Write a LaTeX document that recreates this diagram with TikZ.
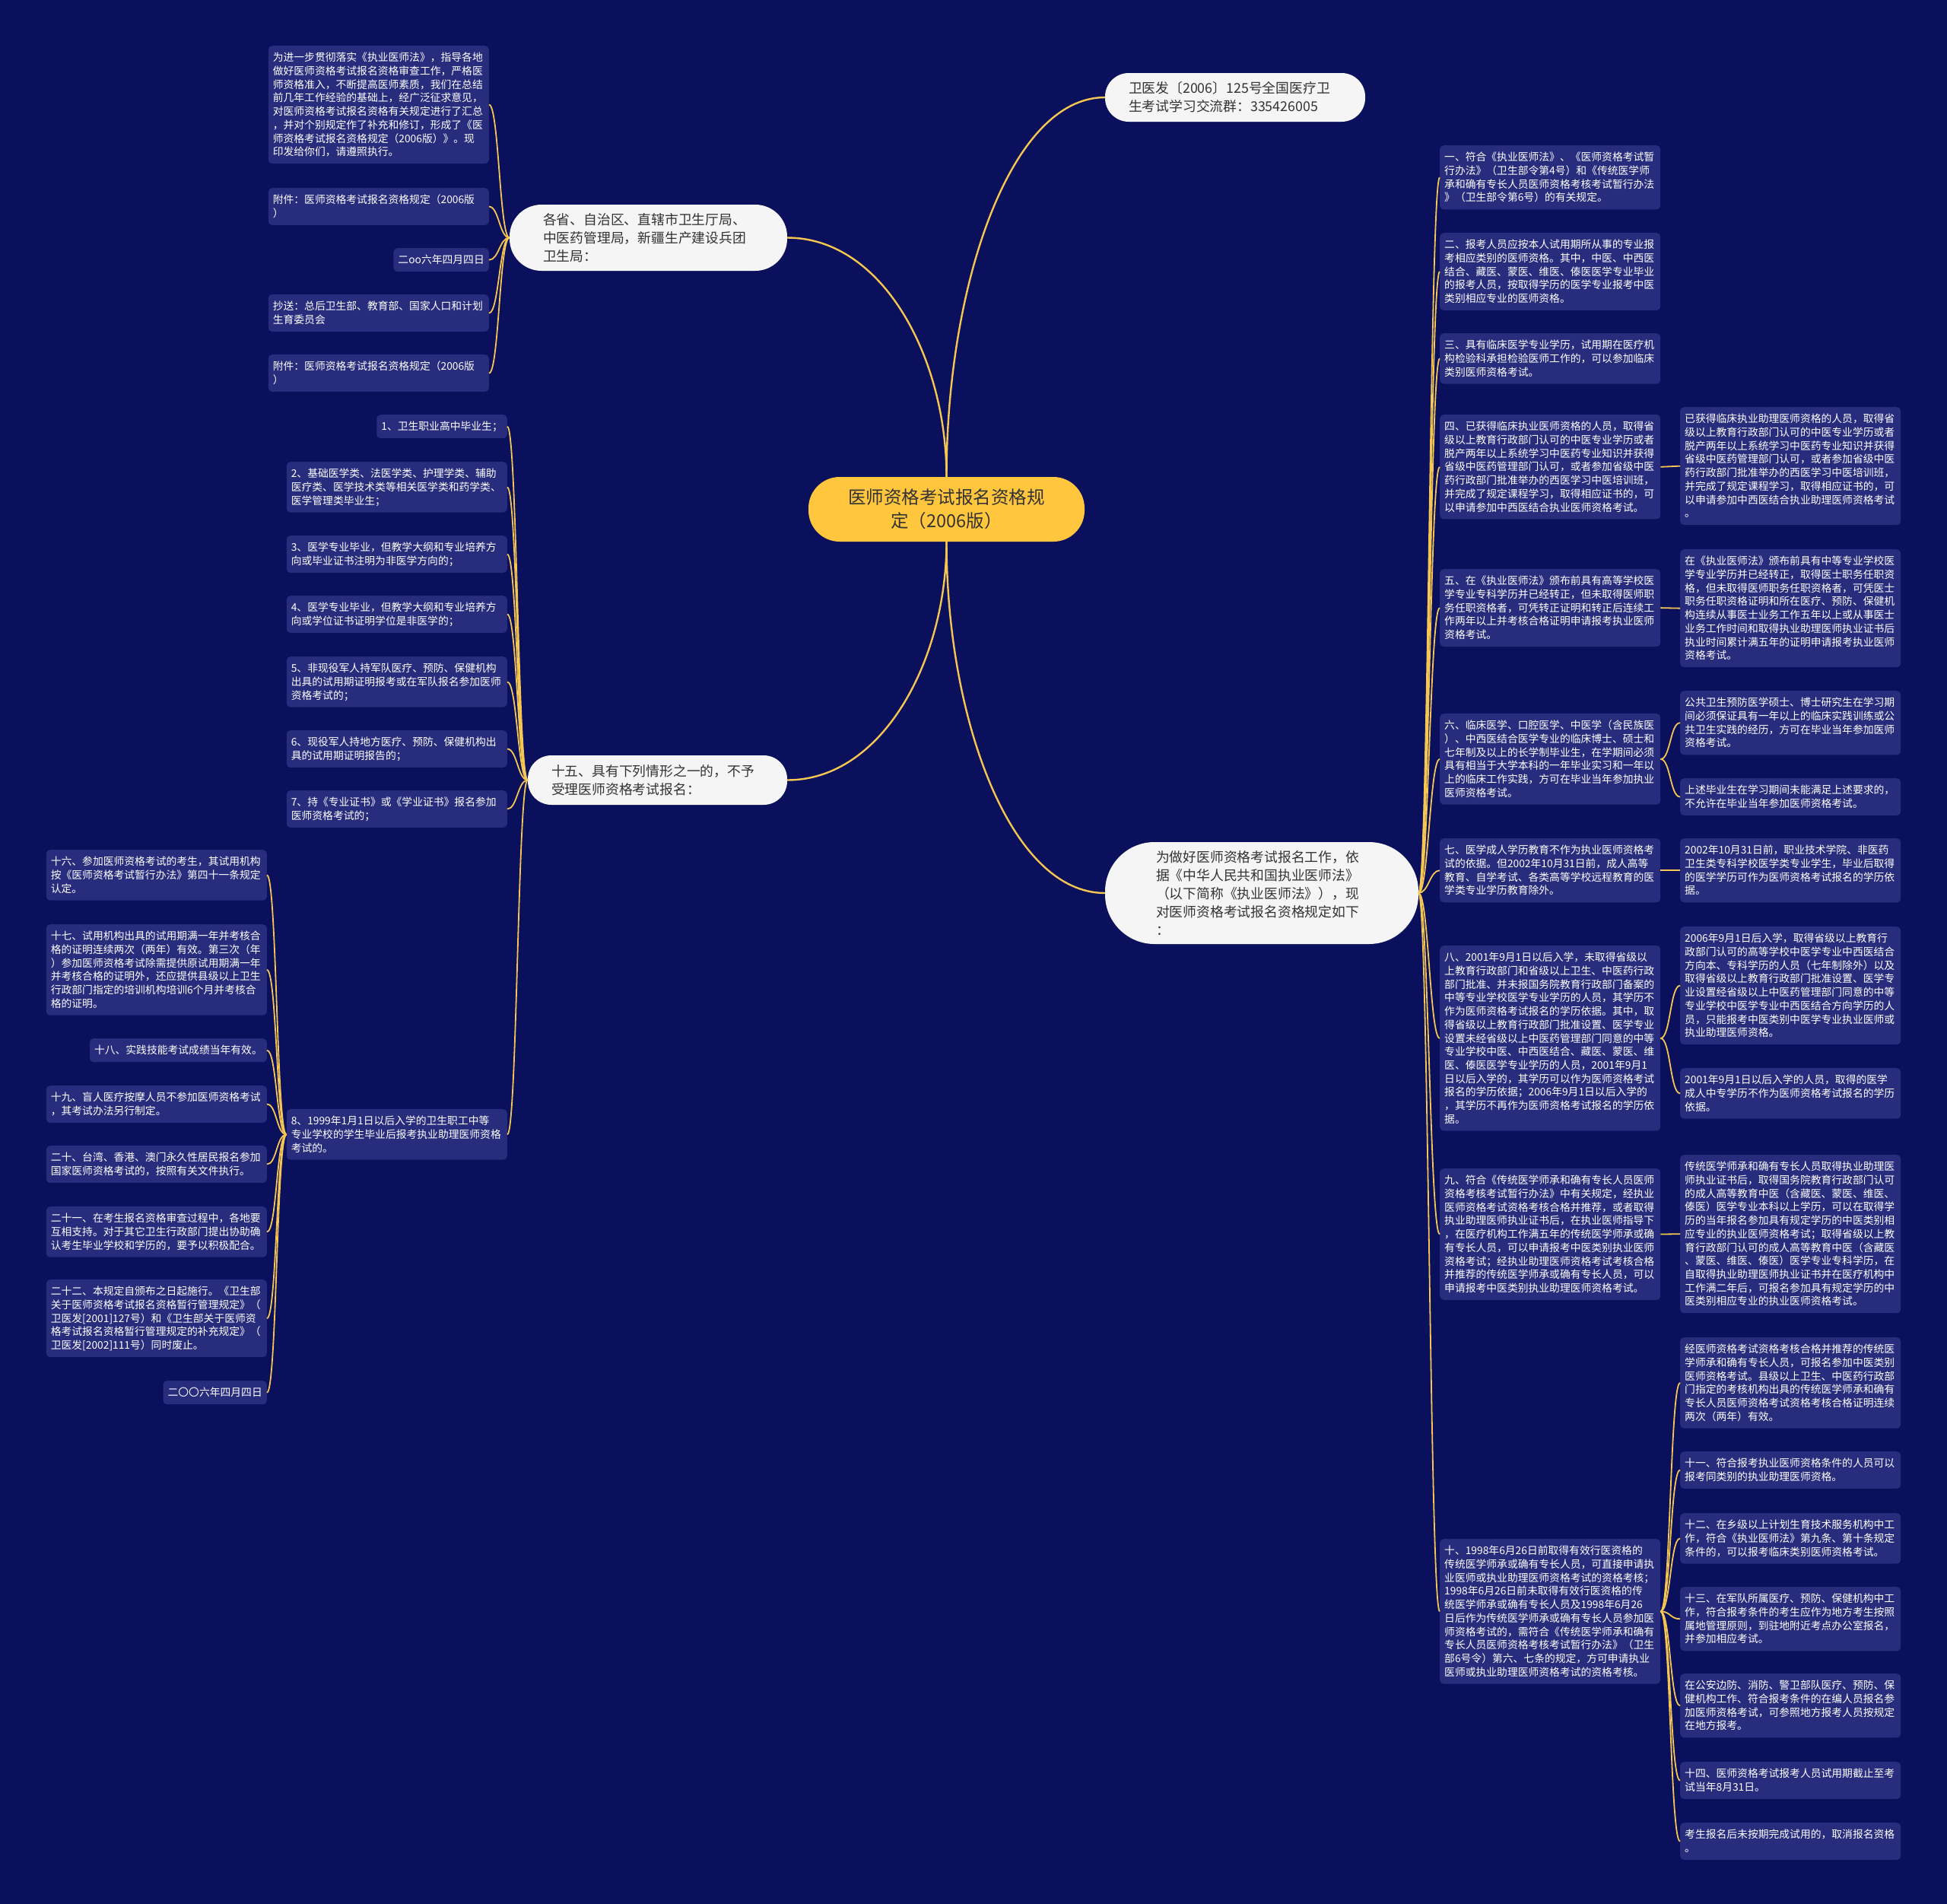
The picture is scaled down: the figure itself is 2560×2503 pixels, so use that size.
\documentclass[tikz,border=0pt]{standalone}
\usepackage{fontspec}
\setmainfont{Noto Sans CJK SC}
\definecolor{bgc}{RGB}{10,16,92}
\definecolor{leafc}{RGB}{39,45,124}
\definecolor{linec}{RGB}{245,198,82}
\definecolor{midc}{RGB}{245,245,245}
\definecolor{midtext}{RGB}{51,51,51}
\definecolor{rootc}{RGB}{255,198,62}
\newcommand\leaffont{\fontsize{13.8}{17.7}\selectfont}
\newcommand\midfont{\fontsize{17.8}{24}\selectfont}
\newcommand\rootfont{\fontsize{23.5}{31}\selectfont}
\newcommand\lstrut{\rule[-3.7pt]{0pt}{17.7pt}}
\newcommand\lc[2]{\draw[conn] (#1.west) .. controls +(-13,0) and +(13,0) .. (#2.east);}
\newcommand\rc[2]{\draw[conn] (#1.east) .. controls +(13,0) and +(-13,0) .. (#2.west);}
\begin{document}
\begin{tikzpicture}[x=1pt,y=-1pt,
  leaf/.style={fill=leafc, rounded corners=5pt, text=white, font=\leaffont, inner xsep=6pt, inner ysep=6.65pt, align=left, execute at begin node=\lstrut, execute at end node=\lstrut},
  wide/.style={leaf, text width=278pt},
  midnode/.style={fill=midc, text=midtext, font=\midfont, align=left},
  conn/.style={draw=linec, line width=1.8pt},
  rconn/.style={draw=linec, line width=2.4pt}]
\useasboundingbox (0,0) rectangle (2560,2503);
\fill[bgc] (0,0) rectangle (2560,2503);

% root and level 1
\node[fill=rootc, text=midtext, font=\rootfont, rounded corners=41pt, minimum width=363pt, minimum height=85pt, align=center] (root) at (1244.5,669.5) {医师资格考试报名资格规\\定（2006版）};
\node[midnode, rounded corners=31pt, text width=280pt, inner xsep=31pt, minimum height=64pt] (tr) at (1624,128) {卫医发〔2006〕125号全国医疗卫\\生考试学习交流群：335426005};
\node[midnode, rounded corners=42pt, text width=277pt, inner xsep=44pt, minimum height=87pt] (A) at (852.5,312.5) {各省、自治区、直辖市卫生厅局、\\中医药管理局，新疆生产建设兵团\\卫生局：};
\node[midnode, rounded corners=31pt, text width=279pt, inner xsep=31pt, minimum height=65pt] (B) at (864.5,1025.5) {十五、具有下列情形之一的，不予\\受理医师资格考试报名：};
\node[midnode, rounded corners=65pt, text width=278pt, inner xsep=67pt, minimum height=134pt] (C) at (1659,1174) {为做好医师资格考试报名工作，依\\据《中华人民共和国执业医师法》\\（以下简称《执业医师法》），现\\对医师资格考试报名资格规定如下\\：};

\draw[rconn] (root.north) .. controls +(0,-250) and +(-125,0) .. (tr.west);
\draw[rconn] (root.north) .. controls +(0,-157) and +(125,0) .. (A.east);
\draw[rconn] (root.south) .. controls +(0,156) and +(125,0) .. (B.east);
\draw[rconn] (root.south) .. controls +(0,231) and +(-125,0) .. (C.west);

% A children
\node[wide, anchor=north east] (a1) at (643,60) {为进一步贯彻落实《执业医师法》，指导各地\\做好医师资格考试报名资格审查工作，严格医\\师资格准入，不断提高医师素质，我们在总结\\前几年工作经验的基础上，经广泛征求意见，\\对医师资格考试报名资格有关规定进行了汇总\\，并对个别规定作了补充和修订，形成了《医\\师资格考试报名资格规定（2006版）》。现\\印发给你们，请遵照执行。};
\node[wide, anchor=north east] (a2) at (643,247) {附件：医师资格考试报名资格规定（2006版\\）};
\node[leaf, anchor=north east] (a3) at (643,326) {二oo六年四月四日};
\node[wide, anchor=north east] (a4) at (643,387) {抄送：总后卫生部、教育部、国家人口和计划\\生育委员会};
\node[wide, anchor=north east] (a5) at (643,466) {附件：医师资格考试报名资格规定（2006版\\）};
\foreach \c in {a1,a2,a3,a4,a5} {\lc{A}{\c}}

% B children
\node[leaf, anchor=north east] (b1) at (667,545) {1、卫生职业高中毕业生；};
\node[wide, anchor=north east] (b2) at (667,607) {2、基础医学类、法医学类、护理学类、辅助\\医疗类、医学技术类等相关医学类和药学类、\\医学管理类毕业生；};
\node[wide, anchor=north east] (b3) at (667,704) {3、医学专业毕业，但教学大纲和专业培养方\\向或毕业证书注明为非医学方向的；};
\node[wide, anchor=north east] (b4) at (667,783) {4、医学专业毕业，但教学大纲和专业培养方\\向或学位证书证明学位是非医学的；};
\node[wide, anchor=north east] (b5) at (667,863) {5、非现役军人持军队医疗、预防、保健机构\\出具的试用期证明报考或在军队报名参加医师\\资格考试的；};
\node[wide, anchor=north east] (b6) at (667,960) {6、现役军人持地方医疗、预防、保健机构出\\具的试用期证明报告的；};
\node[wide, anchor=north east] (b7) at (667,1039) {7、持《专业证书》或《学业证书》报名参加\\医师资格考试的；};
\node[wide, anchor=north east] (b8) at (667,1458) {8、1999年1月1日以后入学的卫生职工中等\\专业学校的学生毕业后报考执业助理医师资格\\考试的。};
\foreach \c in {b1,b2,b3,b4,b5,b6,b7,b8} {\lc{B}{\c}}

% b8 children
\node[wide, anchor=north east] (f16) at (351,1117) {十六、参加医师资格考试的考生，其试用机构\\按《医师资格考试暂行办法》第四十一条规定\\认定。};
\node[wide, anchor=north east] (f17) at (351,1215) {十七、试用机构出具的试用期满一年并考核合\\格的证明连续两次（两年）有效。第三次（年\\）参加医师资格考试除需提供原试用期满一年\\并考核合格的证明外，还应提供县级以上卫生\\行政部门指定的培训机构培训6个月并考核合\\格的证明。};
\node[leaf, anchor=north east] (f18) at (351,1365) {十八、实践技能考试成绩当年有效。};
\node[wide, anchor=north east] (f19) at (351,1427) {十九、盲人医疗按摩人员不参加医师资格考试\\，其考试办法另行制定。};
\node[wide, anchor=north east] (f20) at (351,1506) {二十、台湾、香港、澳门永久性居民报名参加\\国家医师资格考试的，按照有关文件执行。};
\node[wide, anchor=north east] (f21) at (351,1586) {二十一、在考生报名资格审查过程中，各地要\\互相支持。对于其它卫生行政部门提出协助确\\认考生毕业学校和学历的，要予以积极配合。};
\node[wide, anchor=north east] (f22) at (351,1682) {二十二、本规定自颁布之日起施行。《卫生部\\关于医师资格考试报名资格暂行管理规定》（\\卫医发[2001]127号）和《卫生部关于医师资\\格考试报名资格暂行管理规定的补充规定》（\\卫医发[2002]111号）同时废止。};
\node[leaf, anchor=north east] (fd) at (351,1815) {二〇〇六年四月四日};
\foreach \c in {f16,f17,f18,f19,f20,f21,f22,fd} {\lc{b8}{\c}}

% C children
\node[wide, anchor=north west] (r1) at (1893,191) {一、符合《执业医师法》、《医师资格考试暂\\行办法》（卫生部令第4号）和《传统医学师\\承和确有专长人员医师资格考核考试暂行办法\\》（卫生部令第6号）的有关规定。};
\node[wide, anchor=north west] (r2) at (1893,306) {二、报考人员应按本人试用期所从事的专业报\\考相应类别的医师资格。其中，中医、中西医\\结合、藏医、蒙医、维医、傣医医学专业毕业\\的报考人员，按取得学历的医学专业报考中医\\类别相应专业的医师资格。};
\node[wide, anchor=north west] (r3) at (1893,438) {三、具有临床医学专业学历，试用期在医疗机\\构检验科承担检验医师工作的，可以参加临床\\类别医师资格考试。};
\node[wide, anchor=north west] (r4) at (1893,545) {四、已获得临床执业医师资格的人员，取得省\\级以上教育行政部门认可的中医专业学历或者\\脱产两年以上系统学习中医药专业知识并获得\\省级中医药管理部门认可，或者参加省级中医\\药行政部门批准举办的西医学习中医培训班，\\并完成了规定课程学习，取得相应证书的，可\\以申请参加中西医结合执业医师资格考试。};
\node[wide, anchor=north west] (r5) at (1893,748) {五、在《执业医师法》颁布前具有高等学校医\\学专业专科学历并已经转正，但未取得医师职\\务任职资格者，可凭转正证明和转正后连续工\\作两年以上并考核合格证明申请报考执业医师\\资格考试。};
\node[wide, anchor=north west] (r6) at (1893,938) {六、临床医学、口腔医学、中医学（含民族医\\）、中西医结合医学专业的临床博士、硕士和\\七年制及以上的长学制毕业生，在学期间必须\\具有相当于大学本科的一年毕业实习和一年以\\上的临床工作实践，方可在毕业当年参加执业\\医师资格考试。};
\node[wide, anchor=north west] (r7) at (1893,1102) {七、医学成人学历教育不作为执业医师资格考\\试的依据。但2002年10月31日前，成人高等\\教育、自学考试、各类高等学校远程教育的医\\学类专业学历教育除外。};
\node[wide, anchor=north west] (r8) at (1893,1243) {八、2001年9月1日以后入学，未取得省级以\\上教育行政部门和省级以上卫生、中医药行政\\部门批准、并未报国务院教育行政部门备案的\\中等专业学校医学专业学历的人员，其学历不\\作为医师资格考试报名的学历依据。其中，取\\得省级以上教育行政部门批准设置、医学专业\\设置未经省级以上中医药管理部门同意的中等\\专业学校中医、中西医结合、藏医、蒙医、维\\医、傣医医学专业学历的人员，2001年9月1\\日以后入学的，其学历可以作为医师资格考试\\报名的学历依据；2006年9月1日以后入学的\\，其学历不再作为医师资格考试报名的学历依\\据。};
\node[wide, anchor=north west] (r9) at (1893,1536) {九、符合《传统医学师承和确有专长人员医师\\资格考核考试暂行办法》中有关规定，经执业\\医师资格考试资格考核合格并推荐，或者取得\\执业助理医师执业证书后，在执业医师指导下\\，在医疗机构工作满五年的传统医学师承或确\\有专长人员，可以申请报考中医类别执业医师\\资格考试；经执业助理医师资格考试考核合格\\并推荐的传统医学师承或确有专长人员，可以\\申请报考中医类别执业助理医师资格考试。};
\node[wide, anchor=north west] (r10) at (1893,2023) {十、1998年6月26日前取得有效行医资格的\\传统医学师承或确有专长人员，可直接申请执\\业医师或执业助理医师资格考试的资格考核；\\1998年6月26日前未取得有效行医资格的传\\统医学师承或确有专长人员及1998年6月26\\日后作为传统医学师承或确有专长人员参加医\\师资格考试的，需符合《传统医学师承和确有\\专长人员医师资格考核考试暂行办法》（卫生\\部6号令）第六、七条的规定，方可申请执业\\医师或执业助理医师资格考试的资格考核。};
\foreach \c in {r1,r2,r3,r4,r5,r6,r7,r8,r9,r10} {\rc{C}{\c}}

% second right column
\node[wide, anchor=north west] (s4) at (2209,535) {已获得临床执业助理医师资格的人员，取得省\\级以上教育行政部门认可的中医专业学历或者\\脱产两年以上系统学习中医药专业知识并获得\\省级中医药管理部门认可，或者参加省级中医\\药行政部门批准举办的西医学习中医培训班，\\并完成了规定课程学习，取得相应证书的，可\\以申请参加中西医结合执业助理医师资格考试\\。};
\node[wide, anchor=north west] (s5) at (2209,722) {在《执业医师法》颁布前具有中等专业学校医\\学专业学历并已经转正，取得医士职务任职资\\格，但未取得医师职务任职资格者，可凭医士\\职务任职资格证明和所在医疗、预防、保健机\\构连续从事医士业务工作五年以上或从事医士\\业务工作时间和取得执业助理医师执业证书后\\执业时间累计满五年的证明申请报考执业医师\\资格考试。};
\node[wide, anchor=north west] (s6a) at (2209,908) {公共卫生预防医学硕士、博士研究生在学习期\\间必须保证具有一年以上的临床实践训练或公\\共卫生实践的经历，方可在毕业当年参加医师\\资格考试。};
\node[wide, anchor=north west] (s6b) at (2209,1023) {上述毕业生在学习期间未能满足上述要求的，\\不允许在毕业当年参加医师资格考试。};
\node[wide, anchor=north west] (s7) at (2209,1102) {2002年10月31日前，职业技术学院、非医药\\卫生类专科学校医学类专业学生，毕业后取得\\的医学学历可作为医师资格考试报名的学历依\\据。};
\node[wide, anchor=north west] (s8a) at (2209,1218) {2006年9月1日后入学，取得省级以上教育行\\政部门认可的高等学校中医学专业中西医结合\\方向本、专科学历的人员（七年制除外）以及\\取得省级以上教育行政部门批准设置、医学专\\业设置经省级以上中医药管理部门同意的中等\\专业学校中医学专业中西医结合方向学历的人\\员，只能报考中医类别中医学专业执业医师或\\执业助理医师资格。};
\node[wide, anchor=north west] (s8b) at (2209,1404) {2001年9月1日以后入学的人员，取得的医学\\成人中专学历不作为医师资格考试报名的学历\\依据。};
\node[wide, anchor=north west] (s9) at (2209,1518) {传统医学师承和确有专长人员取得执业助理医\\师执业证书后，取得国务院教育行政部门认可\\的成人高等教育中医（含藏医、蒙医、维医、\\傣医）医学专业本科以上学历，可以在取得学\\历的当年报名参加具有规定学历的中医类别相\\应专业的执业医师资格考试；取得省级以上教\\育行政部门认可的成人高等教育中医（含藏医\\、蒙医、维医、傣医）医学专业专科学历，在\\自取得执业助理医师执业证书并在医疗机构中\\工作满二年后，可报名参加具有规定学历的中\\医类别相应专业的执业医师资格考试。};
\node[wide, anchor=north west] (t1) at (2209,1758) {经医师资格考试资格考核合格并推荐的传统医\\学师承和确有专长人员，可报名参加中医类别\\医师资格考试。县级以上卫生、中医药行政部\\门指定的考核机构出具的传统医学师承和确有\\专长人员医师资格考试资格考核合格证明连续\\两次（两年）有效。};
\node[wide, anchor=north west] (t2) at (2209,1908) {十一、符合报考执业医师资格条件的人员可以\\报考同类别的执业助理医师资格。};
\node[wide, anchor=north west] (t3) at (2209,1989) {十二、在乡级以上计划生育技术服务机构中工\\作，符合《执业医师法》第九条、第十条规定\\条件的，可以报考临床类别医师资格考试。};
\node[wide, anchor=north west] (t4) at (2209,2086) {十三、在军队所属医疗、预防、保健机构中工\\作，符合报考条件的考生应作为地方考生按照\\属地管理原则，到驻地附近考点办公室报名，\\并参加相应考试。};
\node[wide, anchor=north west] (t5) at (2209,2200) {在公安边防、消防、警卫部队医疗、预防、保\\健机构工作、符合报考条件的在编人员报名参\\加医师资格考试，可参照地方报考人员按规定\\在地方报考。};
\node[wide, anchor=north west] (t6) at (2209,2316) {十四、医师资格考试报考人员试用期截止至考\\试当年8月31日。};
\node[wide, anchor=north west] (t7) at (2209,2396) {考生报名后未按期完成试用的，取消报名资格\\。};

\rc{r4}{s4}
\rc{r5}{s5}
\rc{r6}{s6a}
\rc{r6}{s6b}
\rc{r7}{s7}
\rc{r8}{s8a}
\rc{r8}{s8b}
\rc{r9}{s9}
\foreach \c in {t1,t2,t3,t4,t5,t6,t7} {\rc{r10}{\c}}
\end{tikzpicture}
\end{document}
